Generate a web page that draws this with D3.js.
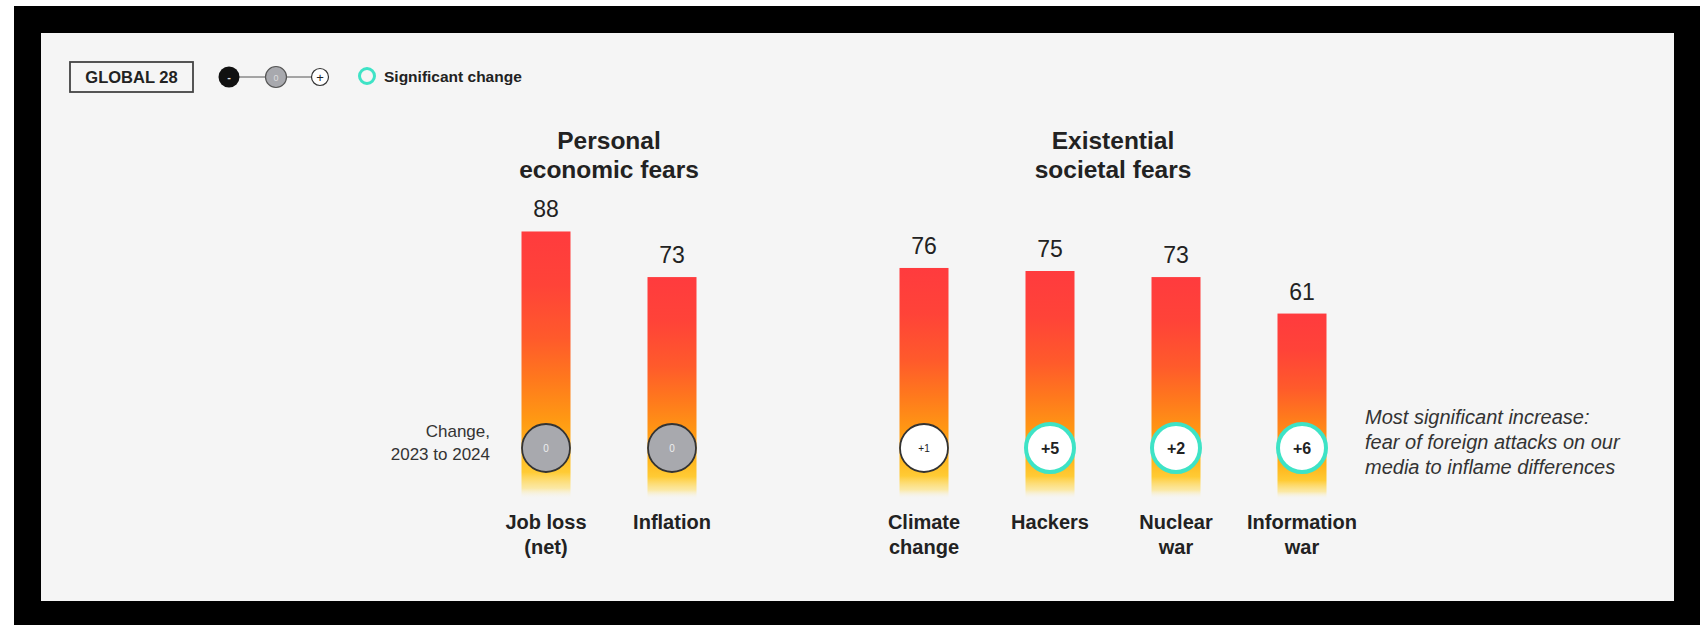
<!DOCTYPE html>
<html>
<head>
<meta charset="utf-8">
<script src="https://cdn.jsdelivr.net/npm/d3@7"></script>
<style>
  body { margin: 0; background: #fff; }
  svg { display: block; font-family: "Liberation Sans", Arial, sans-serif; }
</style>
</head>
<body>
<script>
// data
var categories = ["Job loss (net)", "Inflation", "Climate change", "Hackers", "Nuclear war", "Information war"];
var labelLines = [["Job loss", "(net)"], ["Inflation"], ["Climate", "change"], ["Hackers"], ["Nuclear", "war"], ["Information", "war"]];
var values = [88, 73, 76, 75, 73, 61];
var changes = ["0", "0", "+1", "+5", "+2", "+6"];
var significant = [false, false, false, true, true, true];
var groups = ["personal", "personal", "existential", "existential", "existential", "existential"];
var groupTitles = {personal: ["Personal", "economic fears"], existential: ["Existential", "societal fears"]};
var slots = ["Job loss (net)", "Inflation", "gap", "Climate change", "Hackers", "Nuclear war", "Information war"];

var W = 1703, H = 625;

var svg = d3.select("body").append("svg")
    .attr("width", W)
    .attr("height", H);

// black frame and grey panel
svg.append("rect").attr("x", 14).attr("y", 6).attr("width", 1686).attr("height", 619).attr("fill", "#000");
svg.append("rect").attr("x", 41).attr("y", 33).attr("width", 1633).attr("height", 568).attr("fill", "#f5f5f5");

// scales
var x = d3.scalePoint().domain(slots).range([546, 1302]);
var y = d3.scaleLinear().domain([0, 100]).range([499, 195]);
var barW = 49;

// bar gradient
var defs = svg.append("defs");
var grad = defs.append("linearGradient").attr("id", "barGrad")
    .attr("x1", 0).attr("y1", 0).attr("x2", 0).attr("y2", 1);
[[0, "#ff3b3e", 1], [0.2, "#ff4338", 1], [0.4, "#ff5a2b", 1], [0.55, "#ff781d", 1],
 [0.7, "#ff9813", 1], [0.82, "#ffb41a", 1], [0.9, "#ffcb35", 1], [0.96, "#ffe070", 0.6], [1, "#f5f5f5", 0]]
  .forEach(function(s) {
    grad.append("stop").attr("offset", s[0]).attr("stop-color", s[1]).attr("stop-opacity", s[2]);
  });

var data = categories.map(function(c, i) {
    return {cat: c, lines: labelLines[i], value: values[i], change: changes[i], sig: significant[i], group: groups[i]};
});

// bars
svg.selectAll(".bar").data(data).enter().append("rect")
    .attr("class", "bar")
    .attr("x", function(d) { return x(d.cat) - barW / 2; })
    .attr("y", function(d) { return y(d.value); })
    .attr("width", barW)
    .attr("height", function(d) { return y(0) - y(d.value); })
    .attr("fill", "url(#barGrad)");

// value labels
svg.selectAll(".val").data(data).enter().append("text")
    .attr("x", function(d) { return x(d.cat); })
    .attr("y", function(d) { return y(d.value) - 14; })
    .attr("text-anchor", "middle")
    .attr("font-size", 23)
    .attr("fill", "#222")
    .text(function(d) { return d.value; });

// change circles
var cy = 448;
svg.selectAll(".chg").data(data).enter().append("circle")
    .attr("cx", function(d) { return x(d.cat); })
    .attr("cy", cy)
    .attr("r", 24)
    .attr("fill", function(d) { return d.change === "0" ? "#a8a9ae" : "#fff"; })
    .attr("stroke", function(d) { return d.sig ? "#3ee3c6" : "#333"; })
    .attr("stroke-width", function(d) { return d.sig ? 4 : 1.8; });

svg.selectAll(".chgt").data(data).enter().append("text")
    .attr("x", function(d) { return x(d.cat); })
    .attr("y", function(d) { return d.sig ? cy + 5.5 : cy + 3.5; })
    .attr("text-anchor", "middle")
    .attr("font-size", function(d) { return d.sig ? 16 : 10; })
    .attr("font-weight", function(d) { return d.sig ? "bold" : "normal"; })
    .attr("fill", function(d) { return d.change === "0" ? "#eee" : "#222"; })
    .text(function(d) { return d.change; });

// category labels
var lab = svg.selectAll(".cat").data(data).enter().append("text")
    .attr("text-anchor", "middle")
    .attr("font-size", 20)
    .attr("font-weight", "bold")
    .attr("fill", "#222");
lab.selectAll("tspan").data(function(d) { return d.lines.map(function(l) { return {l: l, cx: x(d.cat)}; }); })
    .enter().append("tspan")
    .attr("x", function(t) { return t.cx; })
    .attr("y", function(t, i) { return 529 + i * 25; })
    .text(function(t) { return t.l; });

// group titles
Object.keys(groupTitles).forEach(function(g) {
    var members = data.filter(function(d) { return d.group === g; });
    var cx = d3.mean(members, function(d) { return x(d.cat); });
    var t = svg.append("text").attr("text-anchor", "middle")
        .attr("font-size", 24.5).attr("font-weight", "bold").attr("fill", "#222");
    groupTitles[g].forEach(function(line, i) {
        t.append("tspan").attr("x", cx).attr("y", 149 + i * 29).text(line);
    });
});

// "Change, 2023 to 2024"
var ct = svg.append("text").attr("text-anchor", "end").attr("font-size", 17).attr("fill", "#333");
ct.append("tspan").attr("x", 490).attr("y", 437).text("Change,");
ct.append("tspan").attr("x", 490).attr("y", 460).text("2023 to 2024");

// annotation
var note = ["Most significant increase:", "fear of foreign attacks on our", "media to inflame differences"];
var nt = svg.append("text").attr("font-size", 20).attr("font-style", "italic").attr("fill", "#333");
note.forEach(function(l, i) {
    nt.append("tspan").attr("x", 1365).attr("y", 424 + i * 25).text(l);
});

// legend
var lg = svg.append("g");
lg.append("rect").attr("x", 70).attr("y", 62).attr("width", 123).attr("height", 30)
    .attr("fill", "#f5f5f5").attr("stroke", "#444").attr("stroke-width", 1.8);
lg.append("text").attr("x", 131.5).attr("y", 83).attr("text-anchor", "middle")
    .attr("font-size", 16.5).attr("font-weight", "bold").attr("fill", "#222").text("GLOBAL 28");
lg.append("line").attr("x1", 229).attr("x2", 320).attr("y1", 77).attr("y2", 77)
    .attr("stroke", "#555").attr("stroke-width", 1);
lg.append("circle").attr("cx", 229).attr("cy", 77).attr("r", 10.5).attr("fill", "#111");
lg.append("text").attr("x", 229).attr("y", 81).attr("text-anchor", "middle")
    .attr("font-size", 11).attr("font-weight", "bold").attr("fill", "#ddd").text("-");
lg.append("circle").attr("cx", 276).attr("cy", 77).attr("r", 10.5).attr("fill", "#a8a9ae")
    .attr("stroke", "#555").attr("stroke-width", 1.2);
lg.append("text").attr("x", 276).attr("y", 80.5).attr("text-anchor", "middle")
    .attr("font-size", 9).attr("fill", "#ddd").text("0");
lg.append("circle").attr("cx", 320).attr("cy", 77).attr("r", 8.5).attr("fill", "#fff")
    .attr("stroke", "#333").attr("stroke-width", 1.2);
lg.append("text").attr("x", 320).attr("y", 81.5).attr("text-anchor", "middle")
    .attr("font-size", 13).attr("fill", "#222").text("+");
lg.append("circle").attr("cx", 367).attr("cy", 76).attr("r", 7.5).attr("fill", "none")
    .attr("stroke", "#3ee3c6").attr("stroke-width", 3);
lg.append("text").attr("x", 384).attr("y", 82).attr("font-size", 15.5).attr("font-weight", "bold")
    .attr("fill", "#222").text("Significant change");
</script>
</body>
</html>
